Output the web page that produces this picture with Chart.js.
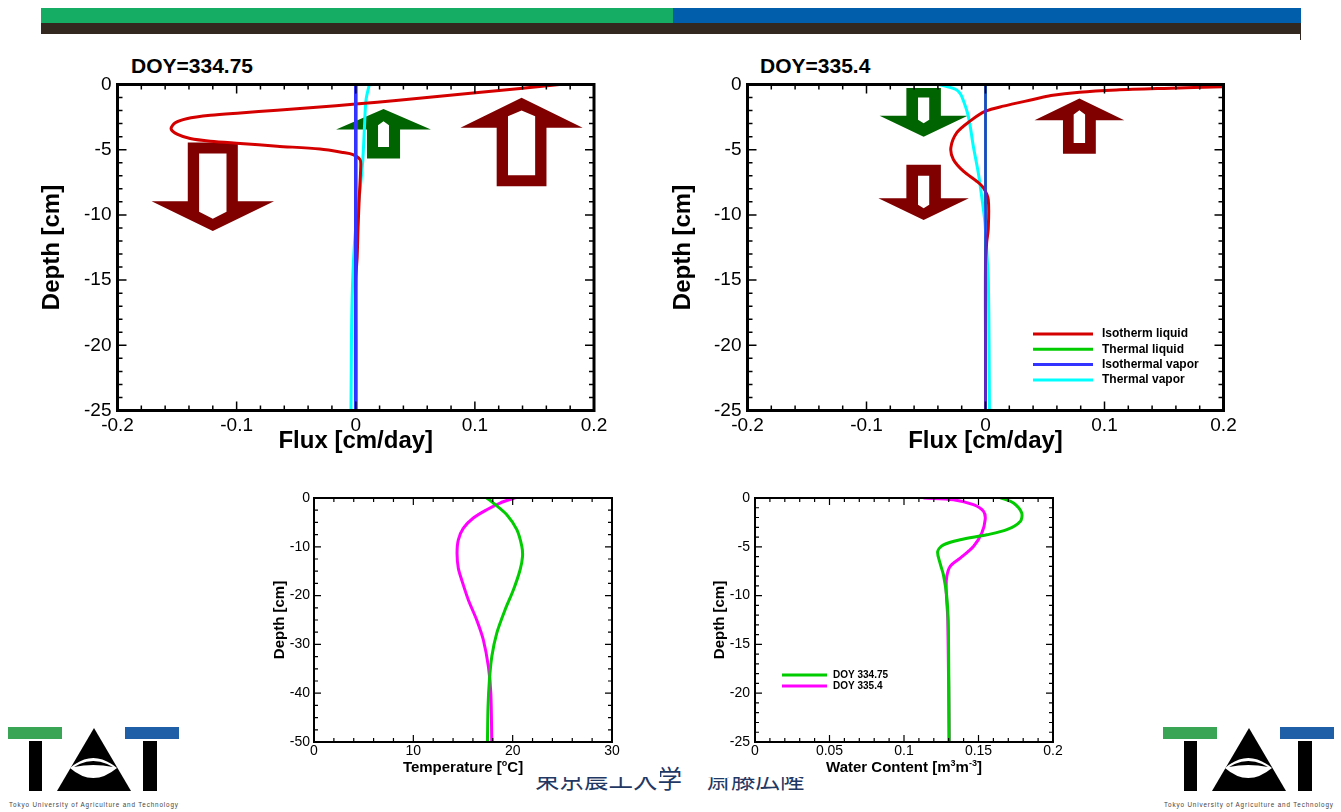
<!DOCTYPE html>
<html>
<head>
<meta charset="utf-8">
<script src="https://cdn.jsdelivr.net/npm/chart.js@4.4.0/dist/chart.umd.min.js"></script>
<style>
html,body{margin:0;padding:0;background:#fff;}
body{width:1341px;height:812px;position:relative;overflow:hidden;font-family:"Liberation Sans",Arial,sans-serif;}
.abs{position:absolute;}
canvas{position:absolute;}
.doy{position:absolute;font-weight:bold;font-size:21px;line-height:24px;color:#000;white-space:nowrap;}
.xt{position:absolute;font-weight:bold;font-size:15px;line-height:18px;text-align:center;width:400px;color:#000;z-index:3;white-space:nowrap;}
.xt sup{font-size:9px;vertical-align:0;position:relative;top:-6px;line-height:0;}
.footer{position:absolute;left:535px;top:765px;font-family:"Noto Sans CJK JP",sans-serif;font-size:24.5px;line-height:25px;color:#1f3864;white-space:nowrap;z-index:0;}
</style>
</head>
<body>
<!-- header bars -->
<div class="abs" style="left:41px;top:8px;width:632px;height:15px;background:#15ad64;"></div>
<div class="abs" style="left:673px;top:8px;width:628px;height:15px;background:#005eab;"></div>
<div class="abs" style="left:41px;top:23px;width:1260px;height:11px;background:#33281f;"></div>
<div class="abs" style="left:1300px;top:34px;width:1px;height:6px;background:#33281f;"></div>

<div class="footer">東京農工大学　斎藤広隆</div>

<div class="doy" style="left:131px;top:54px;">DOY=334.75</div>
<div class="doy" style="left:760px;top:54px;">DOY=335.4</div>

<canvas id="c1"></canvas>
<canvas id="c2"></canvas>
<canvas id="c3" style="z-index:1"></canvas>
<canvas id="c4" style="z-index:1"></canvas>

<div class="xt" style="left:263px;top:758px;">Temperature [<sup>o</sup>C]</div>
<div class="xt" style="left:704px;top:758px;">Water Content [m<sup>3</sup>m<sup>-3</sup>]</div>

<svg class="abs" style="left:8px;top:727px" width="172" height="85" viewBox="0 0 172 85">
  <rect x="0" y="0" width="54" height="12" fill="#3aa655"/>
  <rect x="21" y="14" width="13" height="50" fill="#000"/>
  <polygon points="49,64 86,1 123,64" fill="#000"/>
  <path d="M62,41 Q85,21 109,41 Q85,61 62,41 Z" fill="#fff"/>
  <path d="M66,40 Q85,28 105,40 Q85,36 66,40 Z" fill="#000"/>
  <rect x="117" y="0" width="54" height="12" fill="#1f5fa8"/>
  <rect x="135" y="14" width="14" height="50" fill="#000"/>
  <text x="1" y="80" font-size="6.3" textLength="169" font-family="Liberation Sans, Arial" fill="#444">Tokyo University of Agriculture and Technology</text>
</svg>
<svg class="abs" style="left:1163px;top:727px" width="172" height="85" viewBox="0 0 172 85">
  <rect x="0" y="0" width="54" height="12" fill="#3aa655"/>
  <rect x="21" y="14" width="13" height="50" fill="#000"/>
  <polygon points="49,64 86,1 123,64" fill="#000"/>
  <path d="M62,41 Q85,21 109,41 Q85,61 62,41 Z" fill="#fff"/>
  <path d="M66,40 Q85,28 105,40 Q85,36 66,40 Z" fill="#000"/>
  <rect x="117" y="0" width="54" height="12" fill="#1f5fa8"/>
  <rect x="135" y="14" width="14" height="50" fill="#000"/>
  <text x="1" y="80" font-size="6.3" textLength="169" font-family="Liberation Sans, Arial" fill="#444">Tokyo University of Agriculture and Technology</text>
</svg>

<script>
// ================= DATA =================
const fluxSeriesLabels = ['Isotherm liquid', 'Thermal liquid', 'Isothermal vapor', 'Thermal vapor'];
const doyLabels = ['DOY 334.75', 'DOY 335.4'];

// Tick values
const fluxTicks = [-0.2, -0.1, 0, 0.1, 0.2];
const fluxDepthTicks = [0, -5, -10, -15, -20, -25];
const tempTicks = [0, 10, 20, 30];
const tempDepthTicks = [0, -10, -20, -30, -40, -50];
const waterTicks = [0, 0.05, 0.1, 0.15, 0.2];
const waterDepthTicks = [0, -5, -10, -15, -20, -25];

// DOY 334.75 flux profiles (depth cm, flux cm/day)
const depth334IsothermLiquid = [0, -0.6, -1.2, -1.5, -1.75, -1.98, -2.18, -2.36, -2.62, -2.94, -3.4, -3.83, -4.14, -4.35, -4.52, -4.73, -4.95, -5.21, -5.37, -5.75, -6.27, -8.57, -11.1, -13.2, -15, -20, -25];
const flux334IsothermLiquid = [0.171, 0.105, 0.036, 0.0, -0.033, -0.066, -0.097, -0.122, -0.142, -0.1515, -0.155, -0.1495, -0.139, -0.122, -0.097, -0.066, -0.03, -0.0106, -0.0023, 0.0036, 0.0042, 0.003, 0.0019, 0.0012, 0, 0, 0];
const depth334ThermalLiquid = [0, -25];
const flux334ThermalLiquid = [0, 0];
const depth334IsothermalVapor = [0, -25];
const flux334IsothermalVapor = [0, 0];
const depth334ThermalVapor = [0, -1.2, -3.5, -5.8, -8.1, -10.6, -13.7, -17.5, -21, -25];
const flux334ThermalVapor = [0.0114, 0.0086, 0.0072, 0.0059, 0.0036, 0.0003, -0.002, -0.0033, -0.0037, -0.004];

// DOY 335.4 flux profiles
const depth335IsothermLiquid = [-0.18, -0.3, -0.42, -0.59, -0.85, -1.15, -1.66, -2.05, -2.81, -3.7, -4.85, -5.75, -6.65, -7.42, -7.92, -8.82, -11.1, -12.1, -14, -20, -25];
const flux335IsothermLiquid = [0.2, 0.15, 0.11, 0.079, 0.055, 0.04, 0.015, 0, -0.013, -0.0241, -0.0291, -0.027, -0.0186, -0.0074, -0.0018, 0.0023, 0.0023, 0.001, 0, 0, 0];
const depth335ThermalLiquid = [0, -25];
const flux335ThermalLiquid = [0, 0];
const depth335IsothermalVapor = [0, -25];
const flux335IsothermalVapor = [0, 0];
const depth335ThermalVapor = [0, -0.35, -0.55, -0.9, -2.44, -4.76, -6.81, -8.6, -10.67, -13.5, -15, -20, -25];
const flux335ThermalVapor = [-0.039, -0.0255, -0.0225, -0.02, -0.0144, -0.0102, -0.006, -0.0032, -0.0004, 0.0015, 0.0024, 0.003, 0.0033];

// Temperature profiles (depth cm, deg C)
const depthTemp334 = [0, -1.03, -3.42, -6.5, -9.9, -12, -14.7, -18.8, -22.9, -27.7, -32.5, -37.3, -42.8, -50];
const temp334 = [17.4, 18.06, 19.41, 20.42, 20.92, 20.99, 20.75, 20.08, 19.24, 18.4, 17.9, 17.66, 17.52, 17.46];
const depthTemp335 = [0, -1.03, -2.4, -4.1, -6.16, -8.56, -11.3, -14.4, -16.8, -20.9, -25, -29.1, -34.6, -40, -50];
const temp335 = [20.18, 18.73, 17.39, 16.04, 15.04, 14.53, 14.4, 14.53, 14.87, 15.54, 16.38, 17.05, 17.56, 17.8, 17.9];

// Water content profiles (depth cm, m3/m3)
const depthWater334 = [0, -0.51, -1.54, -2.4, -3.25, -3.77, -4.28, -4.8, -5.48, -6.68, -7.9, -10.1, -13.5, -25];
const water334 = [0.1652, 0.1735, 0.179, 0.178, 0.169, 0.1556, 0.1377, 0.1265, 0.1226, 0.1242, 0.1265, 0.1287, 0.1298, 0.1303];
const depthWater335 = [0, -0.17, -0.68, -1.37, -2.2, -3.6, -4.97, -6.16, -7.0, -8.05, -9.4, -12.5, -25];
const water335 = [0.1135, 0.1332, 0.1466, 0.1534, 0.1545, 0.1522, 0.1466, 0.1377, 0.131, 0.1287, 0.1283, 0.1294, 0.1303];

// Block-arrow annotations (in data units: flux, depth)
const arrows334 = [
  {color:'#800000', x:-0.120, tail:-4.45, neck:-8.95, tip:-11.23, head:0.0514, shaft:0.021, hole:0.0115, holeTail:-5.3, holeNeck:-9.75, holeTip:-10.3},
  {color:'#006400', x:0.0233, tail:-5.67, neck:-3.45, tip:-1.87, head:0.0398, shaft:0.0139, hole:0.0046, holeTail:-4.8, holeNeck:-3.12, holeTip:-2.81},
  {color:'#800000', x:0.1392, tail:-7.8, neck:-3.32, tip:-1.02, head:0.0513, shaft:0.0209, hole:0.0114, holeTail:-6.95, holeNeck:-2.43, holeTip:-1.99}
];
const arrows335 = [
  {color:'#006400', x:-0.052, tail:-0.26, neck:-2.4, tip:-4.0, head:0.037, shaft:0.0145, hole:0.0047, holeTail:-1.0, holeNeck:-2.7, holeTip:-2.98},
  {color:'#800000', x:-0.052, tail:-6.15, neck:-8.72, tip:-10.4, head:0.038, shaft:0.0145, hole:0.0047, holeTail:-7.0, holeNeck:-9.23, holeTip:-9.49},
  {color:'#800000', x:0.0789, tail:-5.31, neck:-2.74, tip:-1.08, head:0.0377, shaft:0.0138, hole:0.0048, holeTail:-4.49, holeNeck:-2.3, holeTip:-1.97}
];

// ================= HELPERS =================
Chart.defaults.font.family = '"Liberation Sans", Arial, sans-serif';
Chart.defaults.color = '#000';

const pts = (xs, ys) => xs.map((x, i) => ({x: x, y: ys[i]}));
const fmt = v => String(Number(Number(v).toFixed(4)));

function frameTicksPlugin(o) {
  return {
    id: 'frameTicks',
    afterDraw(chart) {
      const {ctx, chartArea: a, scales: {x, y}} = chart;
      ctx.save();
      ctx.strokeStyle = '#000';
      ctx.lineWidth = o.tickWidth;
      const isMajor = (v, m) => Math.abs(v / m - Math.round(v / m)) < 1e-6;
      const nx = Math.round((x.max - x.min) / o.xMinor);
      for (let i = 0; i <= nx; i++) {
        const v = x.min + i * o.xMinor;
        const len = isMajor(v, o.xMajor) ? o.majorLen : o.minorLen;
        const p = x.getPixelForValue(v);
        ctx.beginPath();
        ctx.moveTo(p, a.bottom); ctx.lineTo(p, a.bottom - len);
        ctx.moveTo(p, a.top); ctx.lineTo(p, a.top + len);
        ctx.stroke();
      }
      const ny = Math.round((y.max - y.min) / o.yMinor);
      for (let i = 0; i <= ny; i++) {
        const v = y.min + i * o.yMinor;
        const len = isMajor(v, o.yMajor) ? o.majorLen : o.minorLen;
        const p = y.getPixelForValue(v);
        ctx.beginPath();
        ctx.moveTo(a.left, p); ctx.lineTo(a.left + len, p);
        ctx.moveTo(a.right, p); ctx.lineTo(a.right - len, p);
        ctx.stroke();
      }
      ctx.lineWidth = o.frameWidth;
      ctx.strokeRect(a.left, a.top, a.right - a.left, a.bottom - a.top);
      ctx.restore();
    }
  };
}

function arrowsPlugin(arrows) {
  return {
    id: 'blockArrows',
    beforeDatasetsDraw(chart) {
      const {ctx, scales: {x, y}} = chart;
      ctx.save();
      arrows.forEach(ar => {
        const X = v => x.getPixelForValue(v);
        const Y = v => y.getPixelForValue(v);
        ctx.beginPath();
        ctx.moveTo(X(ar.x - ar.shaft), Y(ar.tail));
        ctx.lineTo(X(ar.x + ar.shaft), Y(ar.tail));
        ctx.lineTo(X(ar.x + ar.shaft), Y(ar.neck));
        ctx.lineTo(X(ar.x + ar.head), Y(ar.neck));
        ctx.lineTo(X(ar.x), Y(ar.tip));
        ctx.lineTo(X(ar.x - ar.head), Y(ar.neck));
        ctx.lineTo(X(ar.x - ar.shaft), Y(ar.neck));
        ctx.closePath();
        ctx.moveTo(X(ar.x - ar.hole), Y(ar.holeTail));
        ctx.lineTo(X(ar.x + ar.hole), Y(ar.holeTail));
        ctx.lineTo(X(ar.x + ar.hole), Y(ar.holeNeck));
        ctx.lineTo(X(ar.x), Y(ar.holeTip));
        ctx.lineTo(X(ar.x - ar.hole), Y(ar.holeNeck));
        ctx.closePath();
        ctx.fillStyle = ar.color;
        ctx.fill('evenodd');
      });
      ctx.restore();
    }
  };
}

function miniLegendPlugin(o) {
  return {
    id: 'miniLegend',
    afterDatasetsDraw(chart) {
      const {ctx, chartArea: a} = chart;
      ctx.save();
      chart.data.datasets.forEach((ds, i) => {
        const yy = a.top + o.y0 + i * o.dy;
        ctx.strokeStyle = ds.borderColor;
        ctx.lineWidth = o.lineWidth;
        ctx.beginPath();
        ctx.moveTo(a.left + o.x0, yy);
        ctx.lineTo(a.left + o.x1, yy);
        ctx.stroke();
        ctx.fillStyle = '#000';
        ctx.font = o.font;
        ctx.textBaseline = 'middle';
        ctx.textAlign = 'left';
        ctx.fillText(ds.label, a.left + o.textX, yy);
      });
      ctx.restore();
    }
  };
}

function makeChart(id, c) {
  const cv = document.getElementById(id);
  cv.width = c.box.w; cv.height = c.box.h;
  cv.style.left = c.box.x + 'px'; cv.style.top = c.box.y + 'px';
  cv.style.width = c.box.w + 'px'; cv.style.height = c.box.h + 'px';
  if (c.bg) cv.style.background = c.bg;
  const yW = c.plot.l - c.box.x;
  const xH = c.box.y + c.box.h - c.plot.b;
  const yLH = c.yTitleSize * 1.2;
  const xLH = c.xTitleSize * 1.2;
  const plugins = [frameTicksPlugin(c.frame), arrowsPlugin(c.arrows || [])];
  if (c.legend) plugins.push(miniLegendPlugin(c.legend));
  return new Chart(cv.getContext('2d'), {
    type: 'line',
    data: {datasets: c.datasets},
    options: {
      responsive: false,
      animation: false,
      events: [],
      layout: {padding: {left: 0, top: c.plot.t - c.box.y, right: c.box.x + c.box.w - c.plot.r, bottom: 0}},
      elements: {point: {radius: 0}, line: {tension: 0.3, borderCapStyle: 'round', borderJoinStyle: 'round'}},
      plugins: {legend: {display: false}, tooltip: {enabled: false}, title: {display: false}},
      scales: {
        x: {
          type: 'linear', min: c.xMin, max: c.xMax,
          afterBuildTicks: s => { s.ticks = c.xTicks.map(v => ({value: v})); },
          afterFit: s => { s.height = xH; },
          ticks: {callback: fmt, font: {size: c.tickSize}, padding: c.xTickPad, maxRotation: 0, autoSkip: false, color: '#000'},
          grid: {display: false, drawTicks: false, tickLength: 0},
          border: {display: false},
          title: c.xTitle ? {display: true, text: c.xTitle, color: '#000',
                   font: {size: c.xTitleSize, weight: 'bold', lineHeight: 1.2},
                   padding: {top: 0, bottom: c.box.y + c.box.h - c.xTitleY - xLH / 2}} : {display: false}
        },
        y: {
          type: 'linear', min: c.yMin, max: c.yMax,
          afterBuildTicks: s => { s.ticks = c.yTicks.map(v => ({value: v})); },
          afterFit: s => { s.width = yW; },
          ticks: {callback: fmt, font: {size: c.tickSize}, padding: c.yTickPad, autoSkip: false, color: '#000'},
          grid: {display: false, drawTicks: false, tickLength: 0},
          border: {display: false},
          title: {display: true, text: 'Depth [cm]', color: '#000',
                  font: {size: c.yTitleSize, weight: 'bold', lineHeight: 1.2},
                  padding: {top: c.yTitleX - c.box.x - yLH / 2, bottom: 0}}
        }
      }
    },
    plugins: plugins
  });
}

const RED = '#d40000', GREEN = '#00cc00', BLUE = '#3333ff', CYAN = '#00ffff', MAGENTA = '#ff00ff';

function fluxDatasets(dIL, fIL, dTL, fTL, dIV, fIV, dTV, fTV, blueW) {
  return [
    {label: fluxSeriesLabels[0], data: pts(fIL, dIL), borderColor: RED, borderWidth: 3, order: 1},
    {label: fluxSeriesLabels[1], data: pts(fTL, dTL), borderColor: GREEN, borderWidth: 3, order: 3},
    {label: fluxSeriesLabels[2], data: pts(fIV, dIV), borderColor: BLUE, borderWidth: blueW, order: 0},
    {label: fluxSeriesLabels[3], data: pts(fTV, dTV), borderColor: CYAN, borderWidth: 3, order: 2}
  ];
}

const topFrame = {xMinor: 0.02, xMajor: 0.1, yMinor: 1, yMajor: 5, majorLen: 9, minorLen: 5, frameWidth: 3, tickWidth: 1.5};

makeChart('c1', {
  box: {x: 0, y: 50, w: 660, h: 420},
  plot: {l: 117.5, t: 84.5, r: 594, b: 410.5},
  xMin: -0.2, xMax: 0.2, yMin: -25, yMax: 0,
  xTicks: fluxTicks, yTicks: fluxDepthTicks,
  tickSize: 19, xTickPad: 4, yTickPad: 6,
  xTitle: 'Flux [cm/day]', xTitleSize: 24, xTitleY: 441,
  yTitleSize: 24, yTitleX: 52,
  frame: topFrame,
  arrows: arrows334,
  datasets: fluxDatasets(depth334IsothermLiquid, flux334IsothermLiquid, depth334ThermalLiquid, flux334ThermalLiquid,
                         depth334IsothermalVapor, flux334IsothermalVapor, depth334ThermalVapor, flux334ThermalVapor, 3.5)
});

makeChart('c2', {
  box: {x: 660, y: 50, w: 681, h: 420},
  plot: {l: 747.5, t: 84.5, r: 1223.5, b: 410.5},
  xMin: -0.2, xMax: 0.2, yMin: -25, yMax: 0,
  xTicks: fluxTicks, yTicks: fluxDepthTicks,
  tickSize: 19, xTickPad: 4, yTickPad: 6,
  xTitle: 'Flux [cm/day]', xTitleSize: 24, xTitleY: 441,
  yTitleSize: 24, yTitleX: 683,
  frame: topFrame,
  arrows: arrows335,
  legend: {x0: 285.5, x1: 345.5, textX: 354.5, y0: 249.5, dy: 15.3, lineWidth: 3, font: 'bold 12px "Liberation Sans", Arial, sans-serif'},
  datasets: fluxDatasets(depth335IsothermLiquid, flux335IsothermLiquid, depth335ThermalLiquid, flux335ThermalLiquid,
                         depth335IsothermalVapor, flux335IsothermalVapor, depth335ThermalVapor, flux335ThermalVapor, 2.5)
});

makeChart('c3', {
  box: {x: 255, y: 480, w: 405, h: 297}, bg: '#fff',
  plot: {l: 314, t: 498, r: 612, b: 742},
  xMin: 0, xMax: 30, yMin: -50, yMax: 0,
  xTicks: tempTicks, yTicks: tempDepthTicks,
  tickSize: 14, xTickPad: 1, yTickPad: 4,
  xTitle: null, xTitleSize: 15, xTitleY: 767,
  yTitleSize: 15, yTitleX: 280,
  frame: {xMinor: 2, xMajor: 10, yMinor: 2.5, yMajor: 10, majorLen: 7, minorLen: 4, frameWidth: 2, tickWidth: 1.2},
  datasets: [
    {label: doyLabels[0], data: pts(temp334, depthTemp334), borderColor: GREEN, borderWidth: 3},
    {label: doyLabels[1], data: pts(temp335, depthTemp335), borderColor: MAGENTA, borderWidth: 3}
  ]
});

makeChart('c4', {
  box: {x: 698, y: 480, w: 382, h: 297}, bg: '#fff',
  plot: {l: 755, t: 498, r: 1053, b: 742},
  xMin: 0, xMax: 0.2, yMin: -25, yMax: 0,
  xTicks: waterTicks, yTicks: waterDepthTicks,
  tickSize: 14, xTickPad: 1, yTickPad: 5,
  xTitle: null, xTitleSize: 15, xTitleY: 767,
  yTitleSize: 15, yTitleX: 720,
  frame: {xMinor: 0.01, xMajor: 0.05, yMinor: 1, yMajor: 5, majorLen: 7, minorLen: 4, frameWidth: 2, tickWidth: 1.2},
  legend: {x0: 27, x1: 72, textX: 78, y0: 177, dy: 11, lineWidth: 3, font: 'bold 10px "Liberation Sans", Arial, sans-serif'},
  datasets: [
    {label: doyLabels[0], data: pts(water334, depthWater334), borderColor: GREEN, borderWidth: 3},
    {label: doyLabels[1], data: pts(water335, depthWater335), borderColor: MAGENTA, borderWidth: 3}
  ]
});
</script>
</body>
</html>
